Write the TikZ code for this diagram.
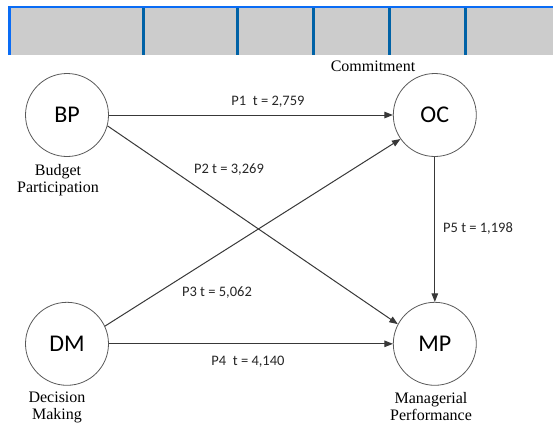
\documentclass[tikz,border=0pt]{standalone}
\usepackage{fontspec}
\setmainfont{Liberation Serif}
\newfontfamily\calfont{Carlito}
\usetikzlibrary{positioning, arrows.meta}
\definecolor{barfill}{HTML}{CCCCCC}
\definecolor{barblue}{HTML}{0A6CF5}
\definecolor{bardark}{HTML}{0062A6}
\definecolor{linegray}{HTML}{383838}

\begin{document}
\begin{tikzpicture}[x=1pt, y=-1pt,
  var/.style={circle, draw=black!65, line width=0.8pt, minimum size=83pt, inner sep=0pt, font=\calfont\fontsize{24}{24}\selectfont},
  lbl/.style={align=center, inner sep=0pt, anchor=north, font=\fontsize{16}{17}\selectfont},
  coef/.style={inner sep=0pt, font=\calfont\fontsize{14.5}{14.5}\selectfont, text=black!85},
  link/.style={-{Triangle[length=8.5pt, width=6.5pt]}, draw=linegray, line width=1pt}]
  \useasboundingbox (0,0) rectangle (553,426);

  % header bar
  \fill[barfill] (9,6) rectangle (553,55);
  \draw[barblue, line width=2.5pt] (9.5,55) -- (9.5,7) -- (553,7);
  \foreach \x in {143.5, 237, 313, 389, 465}
    \draw[bardark, line width=3pt] (\x,8) -- (\x,55);

  % nodes
  \node [var] (bp) at (67,115) {BP};
  \node [var][right = 284pt of bp] (oc) {OC};
  \node [var][below = 145pt of bp] (dm) {DM};
  \node [var][right = 284pt of dm] (mp) {MP};

  % labels
  \node [lbl] (bpl) at (58,164) {Budget\\Participation};
  \node [lbl] (ocl) at (373,61) {Commitment};
  \node [lbl] (dml) at (57,392) {Decision\\Making};
  \node [lbl] (mpl) at (431,392) {Managerial\\Performance};

  % edges
  \draw [link] (bp) -- (oc);
  \draw [link] (bp.-15) -- (mp.152);
  \draw [link] (dm.25) -- (oc.215);
  \draw [link] (dm) -- (mp);
  \draw [link] (oc) -- (mp);

  % coefficients
  \node [coef] (p1) at (268,102) {P1\ \ t = 2,759};
  \node [coef] (p2) at (229,170) {P2 t = 3,269};
  \node [coef] (p3) at (217,293) {P3 t = 5,062};
  \node [coef] (p4) at (248,362) {P4\ \ t = 4,140};
  \node [coef] (p5) at (478,228) {P5 t = 1,198};
\end{tikzpicture}
\end{document}
